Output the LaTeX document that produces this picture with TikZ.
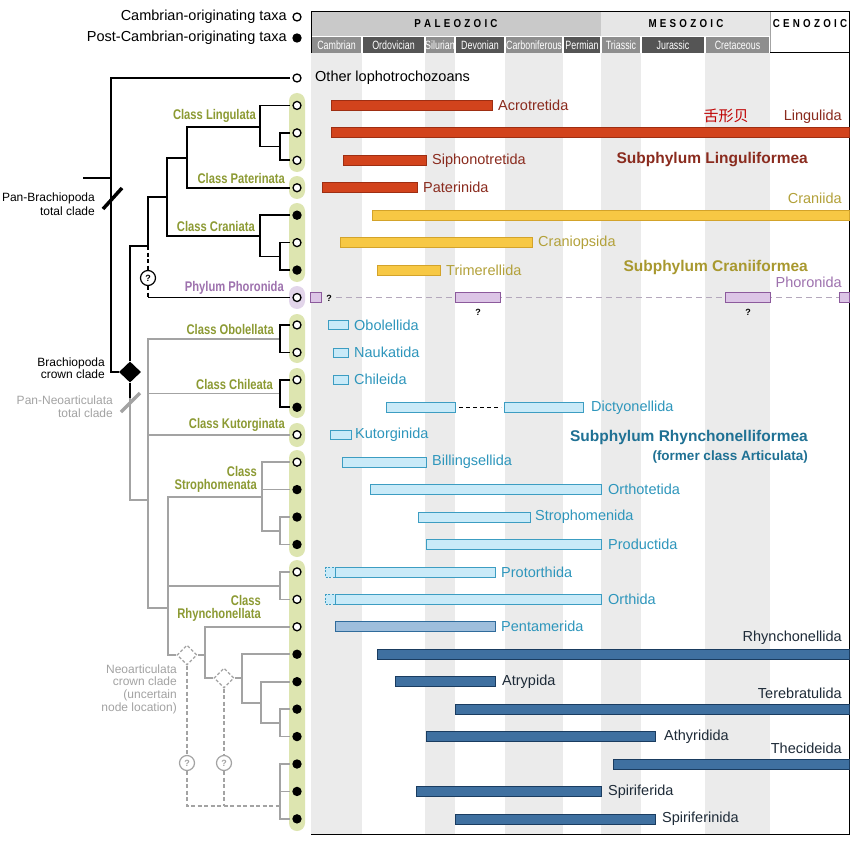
\documentclass[tikz,border=0pt]{standalone}
\usepackage{fontspec}
\setmainfont{Liberation Sans}
\newfontfamily\cjk{Noto Sans CJK SC}
\usetikzlibrary{shapes.geometric}
\definecolor{olv}{HTML}{8C9A33}
\definecolor{pillg}{HTML}{DDE5B0}
\definecolor{pillp}{HTML}{E2D5EA}
\definecolor{phor}{HTML}{9E72AE}
\definecolor{gry}{HTML}{A3A3A3}
\definecolor{redF}{HTML}{D2431C}
\definecolor{redD}{HTML}{9E2E12}
\definecolor{redT}{HTML}{8A2B1E}
\definecolor{yelF}{HTML}{F7C844}
\definecolor{yelD}{HTML}{D3A32A}
\definecolor{yelT}{HTML}{B3A13A}
\definecolor{yelS}{HTML}{A8982E}
\definecolor{lavF}{HTML}{DCC5E6}
\definecolor{lavD}{HTML}{8C5A9C}
\definecolor{lavL}{HTML}{B4A8BC}
\definecolor{lbF}{HTML}{C9EAF8}
\definecolor{lbD}{HTML}{3C9DC2}
\definecolor{lbT}{HTML}{2E96BC}
\definecolor{mbF}{HTML}{9EBEDC}
\definecolor{mbD}{HTML}{2F6B9B}
\definecolor{dbF}{HTML}{3F70A0}
\definecolor{dbD}{HTML}{1A3C60}
\definecolor{dbT}{HTML}{1E2B38}
\definecolor{subR}{HTML}{1F7194}
\definecolor{stripe}{HTML}{EBEBEB}
\definecolor{palC}{HTML}{C9C9C9}
\definecolor{mesC}{HTML}{E6E6E6}
\definecolor{perM}{HTML}{8E8E8E}
\definecolor{perD}{HTML}{555555}
\newcommand\clab[1]{\scalebox{0.8}[1]{\fontsize{14}{15}\selectfont\bfseries #1}}
\newcommand\perlab[1]{\scalebox{0.74}[1]{\fontsize{12}{13}\selectfont #1}}
\newcommand\eralab[1]{\scalebox{0.85}[1]{\fontsize{11.5}{13}\selectfont\bfseries #1}}
\tikzset{
  br/.style={line width=1.7pt, black},
  gb/.style={line width=1.7pt, gry},
  dsh/.style={dash pattern=on 4pt off 2.5pt},
  tipo/.style={circle, draw=black, line width=1.3pt, fill=white, inner sep=0pt, minimum size=8pt},
  tipf/.style={tipo, fill=black},
  pill/.style={rounded corners=8pt, fill=pillg},
  lab/.style={anchor=west, inner sep=0pt},
  labr/.style={anchor=east, inner sep=0pt},
  barR/.style={fill=redF, draw=redD, line width=0.8pt},
  barY/.style={fill=yelF, draw=yelD, line width=0.8pt},
  barP/.style={fill=lavF, draw=lavD, line width=0.8pt},
  barL/.style={fill=lbF, draw=lbD, line width=0.8pt},
  barM/.style={fill=mbF, draw=mbD, line width=0.8pt},
  barD/.style={fill=dbF, draw=dbD, line width=0.8pt},
  qc/.style={circle, draw=black, fill=white, line width=1.2pt, inner sep=0pt, minimum size=15pt, font=\fontsize{9}{10}\selectfont\bfseries},
  qg/.style={qc, draw=gry, text=gry},
  dd/.style={diamond, draw=gry, fill=white, line width=1.3pt, dash pattern=on 3pt off 2pt, inner sep=0pt, minimum width=20pt, minimum height=20pt},
}
\begin{document}
\begin{tikzpicture}[x=1pt,y=-1pt, font=\fontsize{14.5}{16}\selectfont]
\useasboundingbox (0,0) rectangle (862,848);
\fill[white] (0,0) rectangle (862,848);
% ---------- chart background ----------
\foreach \a/\b in {311/362,425/455,505/563,601/641,705/770}
  \fill[stripe] (\a,53) rectangle (\b,834);
\fill[palC] (311,12) rectangle (601,36);
\fill[mesC] (601,12) rectangle (770,36);
\node[inner sep=0pt] (paleo) at (456,24) {\eralab{P\,\,A\,\,L\,\,E\,\,O\,\,Z\,\,O\,\,I\,\,C}};
\node[inner sep=0pt] (meso) at (686,24) {\eralab{M\,\,E\,\,S\,\,O\,\,Z\,\,O\,\,I\,\,C}};
\node[inner sep=0pt] (ceno) at (810,24) {\eralab{C\,\,E\,\,N\,\,O\,\,Z\,\,O\,\,I\,\,C}};
\foreach \a/\b/\c/\n in {311/362/perM/Cambrian, 362/425/perD/Ordovician, 425/455/perM/Silurian, 455/505/perD/Devonian, 505/563/perM/Carboniferous, 563/601/perD/Permian, 601/641/perM/Triassic, 641/705/perD/Jurassic, 705/770/perM/Cretaceous}{
  \fill[\c] (\a+0.7,36.8) rectangle (\b-0.7,53);
  \node[text=white, inner sep=0pt] (p\n) at ({(\a+\b)/2},45) {\perlab{\n}};
}
\draw[line width=0.5pt, gry] (770,12) -- (770,53);
\draw[line width=1pt] (770,53) -- (849,53);
\draw[line width=1pt] (311,53) -- (311,12) -- (849,12) -- (849,834) -- (311,834);
% ---------- legend ----------
\node[labr] (lt1) at (287,17) {Cambrian-originating taxa};
\node[tipo] (lc1) at (297,17) {};
\node[labr] (lt2) at (287,38) {Post-Cambrian-originating taxa};
\node[tipf] (lc2) at (297,38) {};
% ---------- pills ----------
\fill[pill] (289,93) rectangle (305,172);
\fill[pill] (289,176) rectangle (305,199);
\fill[pill] (289,203) rectangle (305,282);
\fill[pill, fill=pillp] (289,286) rectangle (305,309);
\fill[pill] (289,314) rectangle (305,363);
\fill[pill] (289,368) rectangle (305,418);
\fill[pill] (289,423) rectangle (305,447);
\fill[pill] (289,450) rectangle (305,557);
\fill[pill] (289,560) rectangle (305,831);
% ---------- internal nodes ----------
\node[diamond, fill=black, inner sep=0pt, minimum width=22pt, minimum height=21pt] (dia) at (130,372) {};
\node[dd] (da1) at (187,655) {};
\node[dd] (da2) at (224,678) {};
\node[qc] (q1) at (148,278) {?};
\node[qg] (q2) at (187,763) {?};
\node[qg] (q3) at (224,763) {?};
% ---------- tip positions ----------
\foreach \i in {0,...,27}
  \coordinate (c\i) at (297,{78+27.44*\i});
% ---------- black branches ----------
\draw[br] (83,178) -- (111,178);
\draw[br] (290,78) -| (111,372) -- (dia.west);
\draw[br] (dia.north) |- (148,246);
\draw[br] (148,246) |- (167,197);
\draw[br] (187,158) -| (167,236) -- (260,236);
\draw[br] (260,127) -| (187,187.8) -- (290,187.8);
\draw[br] (290,105.4) -| (260,146.6) -- (280,146.6);
\draw[br] (290,132.9) -| (280,160.3) -- (290,160.3);
\draw[br] (290,215.2) -| (260,256.4) -- (280,256.4);
\draw[br] (290,242.6) -| (280,270.1) -- (290,270.1);
\draw[br, dsh] (148,246) -- (q1);
\draw[br, dsh] (q1) -- (148,297.5);
\draw[br] (148,297.5) -- (290,297.5);
\draw[br] (dia.south) -- (130,398);
% ---------- gray branches ----------
\draw[gb] (130,398) |- (148,500);
\draw[gb] (280,338.7) -| (148,608) -- (168,608);
\draw[gb] (148,393.5) -- (280,393.5);
\draw[gb] (148,434.7) -- (290,434.7);
\draw[gb] (262,497) -| (168,655) -- (da1);
\draw[gb] (168,586) -- (280,586);
\draw[gb] (290,462.2) -| (262,531) -- (280,531);
\draw[gb] (262,489.6) -- (290,489.6);
\draw[gb] (290,517) -| (280,544.5) -- (290,544.5);
\draw[gb] (290,571.9) -| (280,599.4) -- (290,599.4);
\draw[gb] (da1) -- (205,655);
\draw[gb] (290,626.8) -| (205,678) -- (da2);
\draw[gb] (da2) -- (242,678);
\draw[gb] (290,654.2) -| (242,703) -- (261,703);
\draw[gb] (290,681.7) -| (261,723) -- (280,723);
\draw[gb] (290,709.1) -| (280,736.6) -- (290,736.6);
\draw[gb] (290,764) -| (280,818.9) -- (290,818.9);
\draw[gb] (280,791.4) -- (290,791.4);
\draw[gb, dsh] (da1) -- (q2);
\draw[gb, dsh] (q2) -- (187,806) -- (280,806);
\draw[gb, dsh] (da2) -- (q3);
\draw[gb, dsh] (q3) -- (224,806);
% black brackets of Obolellata / Chileata
\draw[br] (290,325) -| (280,352.4) -- (290,352.4);
\draw[br] (290,379.8) -| (280,407.3) -- (290,407.3);
% tips drawn on top
\foreach \i/\s in {0/tipo,1/tipo,2/tipo,3/tipo,4/tipo,5/tipf,6/tipo,7/tipf,8/tipo,9/tipo,10/tipo,11/tipo,12/tipf,13/tipo,14/tipo,15/tipf,16/tipf,17/tipf,18/tipo,19/tipo,20/tipo,21/tipf,22/tipf,23/tipf,24/tipf,25/tipf,26/tipf,27/tipf}
  \node[\s] (t\i) at (c\i) {};
% slashes
\draw[line width=3.5pt] (103,209) -- (122,188);
\draw[line width=3.5pt, gry] (121,412) -- (140,393);
% ---------- tree labels ----------
\node[labr, align=right, font=\fontsize{12}{13.5}\selectfont] (lpb) at (95,204) {Pan-Brachiopoda\\total clade};
\node[labr, align=right, font=\fontsize{12}{12.5}\selectfont] (lbc) at (105,368) {Brachiopoda\\crown clade};
\node[labr, align=right, text=gry, font=\fontsize{12}{13}\selectfont] (lpn) at (113,406.5) {Pan-Neoarticulata\\total clade};
\node[labr, align=right, text=gry, font=\fontsize{12}{12.7}\selectfont] (lnc) at (177,689) {Neoarticulata\\crown clade\\(uncertain\\node location)};
\node[labr, text=olv] (cl1) at (256,116) {\clab{Class Lingulata}};
\node[labr, text=olv] (cl2) at (285,178) {\clab{Class Paterinata}};
\node[labr, text=olv] (cl3) at (255,226) {\clab{Class Craniata}};
\node[labr, text=phor] (cl4) at (284,288) {\clab{Phylum Phoronida}};
\node[labr, text=olv] (cl5) at (274,329) {\clab{Class Obolellata}};
\node[labr, text=olv] (cl6) at (273,384) {\clab{Class Chileata}};
\node[labr, text=olv] (cl7) at (285,425) {\clab{Class Kutorginata}};
\node[labr, text=olv, align=right, font=\fontsize{14}{13}\selectfont] (cl8) at (257,479.5) {\clab{Class}\\\clab{Strophomenata}};
\node[labr, text=olv, align=right, font=\fontsize{14}{13}\selectfont] (cl9) at (261,608.5) {\clab{Class}\\\clab{Rhynchonellata}};
% ---------- range bars ----------
\node[lab] (n0) at (315,78) {Other lophotrochozoans};
% Linguliformea
\draw[barR] (331,100.4) rectangle (492,110.4);
\node[lab, text=redT] (n1) at (498,105.4) {Acrotretida};
\draw[barR] (331,127.9) rectangle (849,137.9);
\node[labr, text=redT] (n2) at (842,117) {Lingulida};
\node[text=red!75!black, font=\cjk\fontsize{15}{16}\selectfont, inner sep=0pt] (cn) at (726,116) {舌形贝};
\draw[barR] (343,155.3) rectangle (426,165.3);
\node[lab, text=redT] (n3) at (432,160.3) {Siphonotretida};
\draw[barR] (322,182.8) rectangle (417,192.8);
\node[lab, text=redT] (n4) at (423,187.8) {Paterinida};
\node[labr, text=redT, font=\fontsize{15.5}{17}\selectfont\bfseries] (s1) at (808,160) {Subphylum Linguliformea};
% Craniiformea
\draw[barY] (372,210.2) rectangle (849,220.2);
\node[labr, text=yelT] (n5) at (842,198) {Craniida};
\draw[barY] (340,237.6) rectangle (532,247.6);
\node[lab, text=yelT] (n6) at (538,242.6) {Craniopsida};
\draw[barY] (377,265.1) rectangle (440,275.1);
\node[lab, text=yelT] (n7) at (446,270.1) {Trimerellida};
\node[labr, text=yelS, font=\fontsize{15.5}{17}\selectfont\bfseries] (s2) at (808,267) {Subphylum Craniiformea};
% Phoronida
\draw[lavL, line width=1.2pt, dash pattern=on 6pt off 4pt] (336,297.5) -- (839,297.5);
\draw[barP] (310,292.5) rectangle (321,302.5);
\draw[barP] (455,292.5) rectangle (500,302.5);
\draw[barP] (725,292.5) rectangle (770,302.5);
\draw[barP] (839,292.5) rectangle (849,302.5);
\node[font=\fontsize{9}{10}\selectfont\bfseries, inner sep=0pt] (pq1) at (329,298) {?};
\node[font=\fontsize{9}{10}\selectfont\bfseries, inner sep=0pt] (pq2) at (478,312) {?};
\node[font=\fontsize{9}{10}\selectfont\bfseries, inner sep=0pt] (pq3) at (748,312) {?};
\node[labr, text=phor] (n8) at (842,282) {Phoronida};
% Rhynchonelliformea (light)
\draw[barL] (328,320.5) rectangle (348,329.5);
\node[lab, text=lbT] (n9) at (354,325) {Obolellida};
\draw[barL] (333,347.9) rectangle (348,356.9);
\node[lab, text=lbT] (n10) at (354,352.4) {Naukatida};
\draw[barL] (333,375.3) rectangle (348,384.3);
\node[lab, text=lbT] (n11) at (354,379.8) {Chileida};
\draw[barL] (386,402.3) rectangle (455,412.3);
\draw[black, line width=1.5pt, dash pattern=on 4pt off 3pt] (459,407.3) -- (501,407.3);
\draw[barL] (504,402.3) rectangle (583,412.3);
\node[lab, text=lbT] (n12) at (591,407.3) {Dictyonellida};
\draw[barL] (330,430.2) rectangle (351,439.2);
\node[lab, text=lbT] (n13) at (355,434.7) {Kutorginida};
\draw[barL] (342,457.2) rectangle (426,467.2);
\node[lab, text=lbT] (n14) at (432,462.2) {Billingsellida};
\draw[barL] (370,484.6) rectangle (601,494.6);
\node[lab, text=lbT] (n15) at (608,489.6) {Orthotetida};
\draw[barL] (418,512) rectangle (530,522);
\node[lab, text=lbT] (n16) at (535,517) {Strophomenida};
\draw[barL] (426,539.5) rectangle (601,549.5);
\node[lab, text=lbT] (n17) at (608,544.5) {Productida};
\draw[barL, dash pattern=on 2pt off 1.5pt] (325,566.9) rectangle (335,576.9);
\draw[barL] (335,566.9) rectangle (495,576.9);
\node[lab, text=lbT] (n18) at (501,571.9) {Protorthida};
\draw[barL, dash pattern=on 2pt off 1.5pt] (325,594.4) rectangle (335,604.4);
\draw[barL] (335,594.4) rectangle (601,604.4);
\node[lab, text=lbT] (n19) at (608,599.4) {Orthida};
\draw[barM] (335,621.8) rectangle (495,631.8);
\node[lab, text=lbT] (n20) at (501,626.8) {Pentamerida};
\node[labr, text=subR, font=\fontsize{15.5}{17}\selectfont\bfseries] (s3) at (808,437) {Subphylum Rhynchonelliformea};
\node[labr, text=subR, font=\fontsize{13.5}{15}\selectfont\bfseries] (s4) at (808,457) {(former class Articulata)};
% dark blue
\draw[barD] (377,649.2) rectangle (849,659.2);
\node[labr, text=dbT] (n21) at (842,638) {Rhynchonellida};
\draw[barD] (395,676.7) rectangle (495,686.7);
\node[lab, text=dbT] (n22) at (502,681.7) {Atrypida};
\draw[barD] (455,704.1) rectangle (849,714.1);
\node[labr, text=dbT] (n23) at (842,693) {Terebratulida};
\draw[barD] (426,731.6) rectangle (655,741.6);
\node[lab, text=dbT] (n24) at (664,736.6) {Athyridida};
\draw[barD] (613,759) rectangle (849,769);
\node[labr, text=dbT] (n25) at (842,748) {Thecideida};
\draw[barD] (416,786.4) rectangle (601,796.4);
\node[lab, text=dbT] (n26) at (608,791.4) {Spiriferida};
\draw[barD] (455,813.9) rectangle (655,823.9);
\node[lab, text=dbT] (n27) at (662,818.9) {Spiriferinida};
\end{tikzpicture}
\end{document}
